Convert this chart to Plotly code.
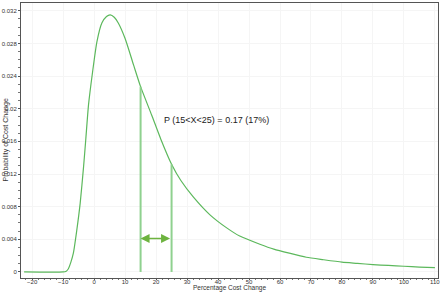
import plotly.graph_objects as go

# Curve values
curve_x = [-22.6, -10, -9, -8.3, -7.5, -6.7, -5.6, -4.5, -3.4, -2.7, -1.8, -0.5, 0.9, 2.5, 4, 5.2,
           6.5, 7.8, 10, 12.7, 15, 18.6, 21.5, 25, 28, 32, 37.4, 42.8, 47, 53.5, 58, 63, 68.5,
           74, 80, 85, 90, 95, 100, 105, 110]
curve_y = [0, 0, 0.0001, 0.0004, 0.0012, 0.0023, 0.0051, 0.0084, 0.0129, 0.0162, 0.0205, 0.0245,
           0.0282, 0.0305, 0.0313, 0.0315, 0.0312, 0.0305, 0.0286, 0.0254, 0.0227, 0.0192, 0.0163,
           0.0132, 0.0112, 0.0092, 0.0070, 0.0054, 0.0044, 0.0034, 0.0028, 0.0023, 0.0018, 0.0015,
           0.0012, 0.00105, 0.0009, 0.0008, 0.0007, 0.0006, 0.00054]

bounds_x = [15, 25]
bounds_y = [0.0227, 0.0132]
arrow_y = 0.0041
label_text = "P (15<X<25) = 0.17 (17%)"
x_title = "Percentage Cost Change"
y_title = "Probability of Cost Change"
x_ticks = [-20, -10, 0, 10, 20, 30, 40, 50, 60, 70, 80, 90, 100, 110]
y_ticks = [0, 0.004, 0.008, 0.012, 0.016, 0.02, 0.024, 0.028, 0.032]
y_labels = ["0", "0.004", "0.008", "0.012", "0.016", "0.02", "0.024", "0.028", "0.032"]

font_family = "Liberation Sans, Arial"

fig = go.Figure()
fig.add_trace(go.Scatter(x=curve_x, y=curve_y, mode="lines",
                         line=dict(color="#5cb85c", width=1.2, shape="spline", smoothing=0.6),
                         hoverinfo="skip", showlegend=False))
for bx, by in zip(bounds_x, bounds_y):
    fig.add_trace(go.Scatter(x=[bx, bx], y=[0, by], mode="lines",
                             line=dict(color="#8fd18f", width=2), showlegend=False))

fig.add_annotation(x=bounds_x[0], y=arrow_y, ax=bounds_x[1], ay=arrow_y,
                   xref="x", yref="y", axref="x", ayref="y", text="",
                   showarrow=True, arrowhead=2, arrowside="end+start", arrowsize=1.2,
                   arrowwidth=1.5, arrowcolor="#6db33f")
fig.add_annotation(x=39.4, y=0.0186, xref="x", yref="y", text=label_text, showarrow=False,
                   font=dict(family=font_family, size=9, color="#222"))
fig.add_annotation(x=0.5, y=0, xref="paper", yref="paper", yanchor="bottom", yshift=-15,
                   text=x_title, showarrow=False, borderpad=0,
                   font=dict(family=font_family, size=6.5, color="#333"))
fig.add_annotation(x=0, y=0.5, xref="paper", yref="paper", xanchor="center", xshift=-16,
                   textangle=-90, text=y_title, showarrow=False,
                   font=dict(family=font_family, size=7, color="#333"))

axis_common = dict(showline=True, linecolor="#555", linewidth=1, mirror=True,
                   ticks="outside", tickcolor="#555", showgrid=True,
                   gridcolor="#f5f5f5", zeroline=False, automargin=False,
                   tickfont=dict(family=font_family, size=6, color="#333"))
fig.update_xaxes(range=[-23.6, 111], tickvals=x_ticks, ticklabelstandoff=-3, ticklen=1,
                 minor=dict(ticks="outside", ticklen=1, dtick=2, tickcolor="#777"),
                 **axis_common)
fig.update_yaxes(range=[-0.00074, 0.03295], tickvals=y_ticks, ticktext=y_labels, ticklen=2,
                 minor=dict(ticks="outside", ticklen=2, dtick=0.001, tickcolor="#777"),
                 **axis_common)
fig.update_layout(width=443, height=293, margin=dict(l=21, r=5, t=3, b=15),
                  paper_bgcolor="white", plot_bgcolor="white")
fig.write_html("out.html")
